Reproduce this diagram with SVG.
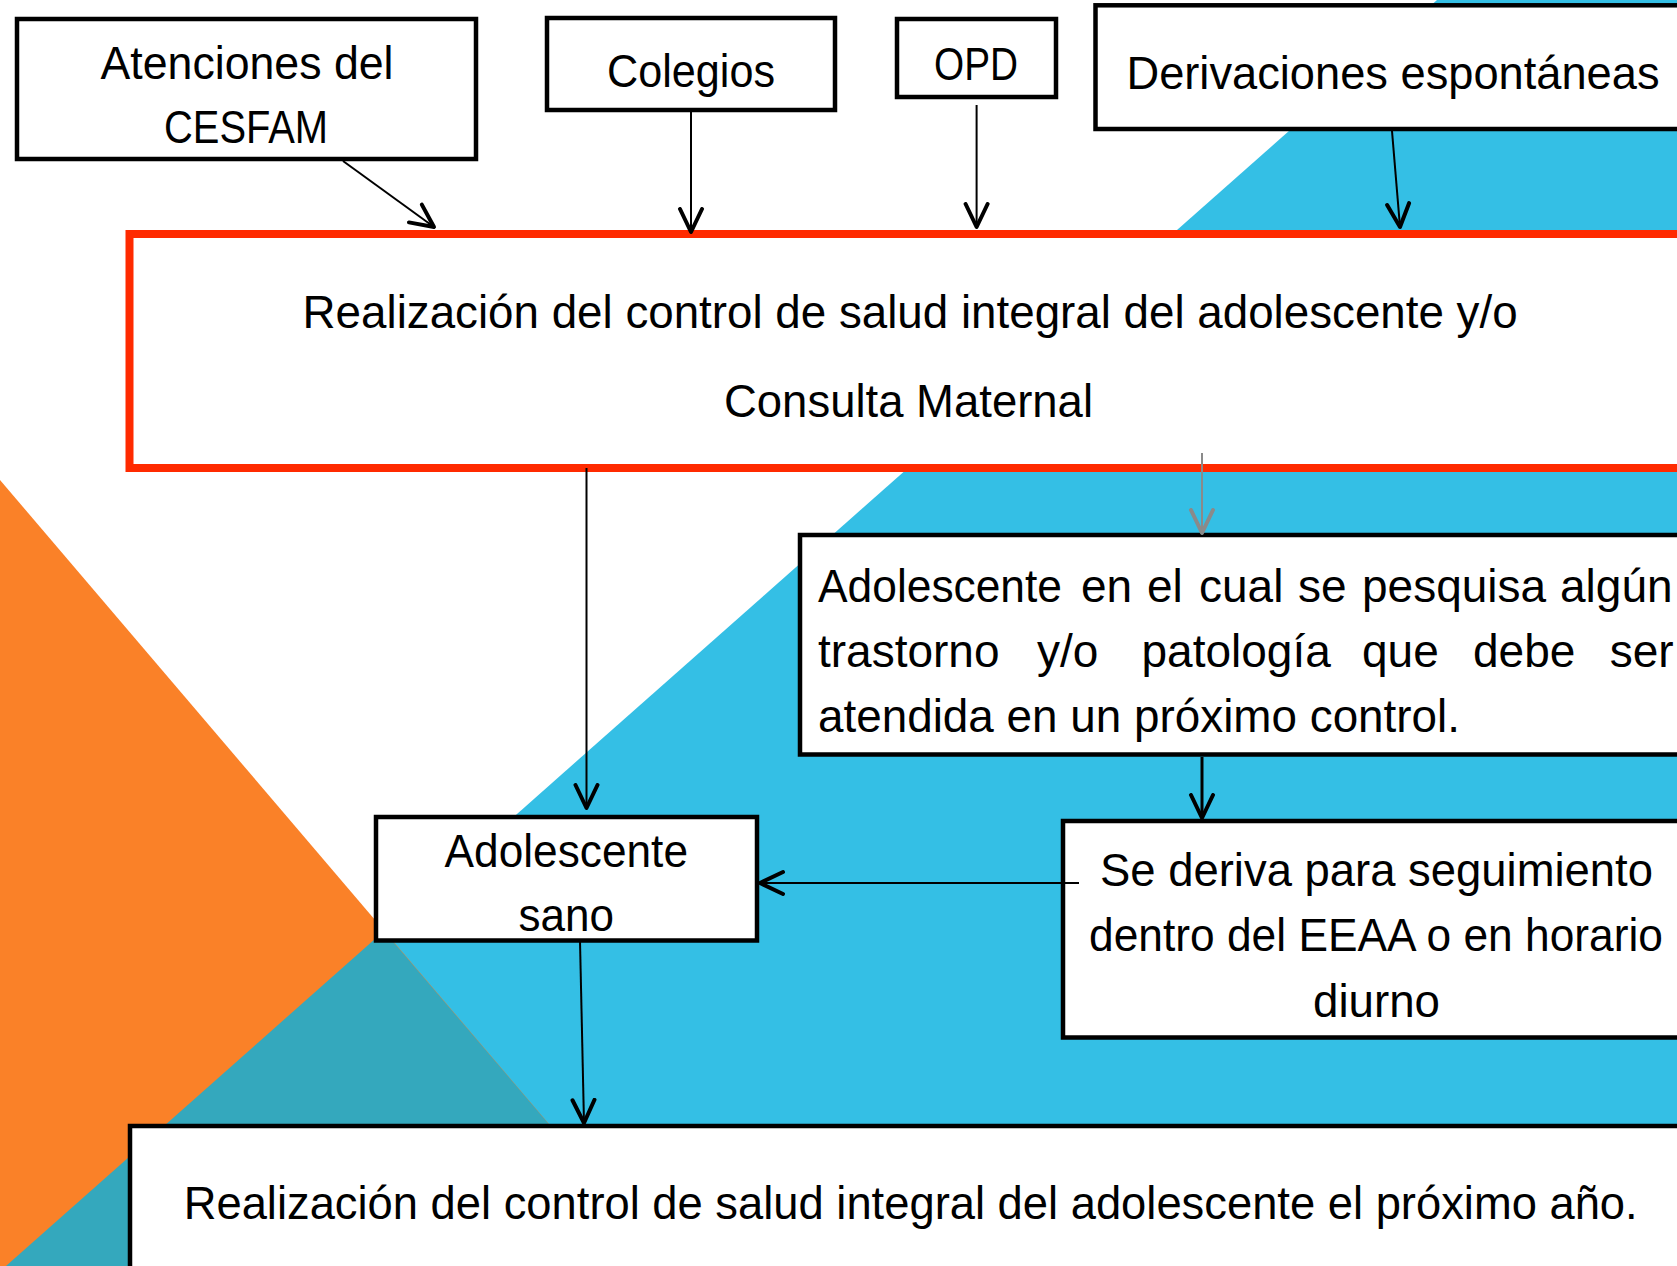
<svg xmlns="http://www.w3.org/2000/svg" width="1677" height="1266" viewBox="0 0 1677 1266">
<style>
.box{fill:#fff;stroke:#000;stroke-width:4.5}
.red{fill:#fff;stroke:#FF2A00;stroke-width:8}
.t{font-family:"Liberation Sans",Arial,sans-serif;font-size:46px;fill:#000}
.ln{stroke:#000;stroke-width:2;fill:none}
.lg{stroke:#8a8a8a;stroke-width:2;fill:none}
</style>
<defs>
<marker id="arr" viewBox="0 0 30 30" markerWidth="30" markerHeight="30" refX="25" refY="15" orient="auto" markerUnits="userSpaceOnUse">
<path d="M2,4 L25,15 L2,26" fill="none" stroke="#000" stroke-width="4" stroke-linejoin="round" stroke-linecap="round"/>
</marker>
<marker id="arrg" viewBox="0 0 30 30" markerWidth="30" markerHeight="30" refX="25" refY="15" orient="auto" markerUnits="userSpaceOnUse">
<path d="M2,4 L25,15 L2,26" fill="none" stroke="#8a8a8a" stroke-width="4" stroke-linejoin="round" stroke-linecap="round"/>
</marker>
</defs>
<rect x="0" y="0" width="1677" height="1266" fill="#fff"/>
<g id="background">
<polygon points="1437,0 1677,0 1677,1266 6,1266" fill="#34BFE5"/>
<polygon points="0,480 670,1266 0,1266" fill="#FA8128"/>
<polygon points="384,931 670,1266 6,1266" fill="#34A8BD"/>
</g>
<g id="n-atenciones">
<rect class="box" x="17" y="19" width="459" height="140"/>
<text class="t" x="100.5" y="79" textLength="293" lengthAdjust="spacingAndGlyphs">Atenciones del</text>
<text class="t" x="164" y="143" textLength="164" lengthAdjust="spacingAndGlyphs">CESFAM</text>
</g>
<g id="n-colegios">
<rect class="box" x="547" y="18" width="288" height="92"/>
<text class="t" x="607" y="87" textLength="168" lengthAdjust="spacingAndGlyphs">Colegios</text>
</g>
<g id="n-opd">
<rect class="box" x="897" y="19" width="159" height="78"/>
<text class="t" x="934" y="80" textLength="84" lengthAdjust="spacingAndGlyphs">OPD</text>
</g>
<g id="n-derivaciones">
<rect class="box" x="1095.5" y="5.3" width="700" height="123.7"/>
<text class="t" x="1126.5" y="89" textLength="533" lengthAdjust="spacingAndGlyphs">Derivaciones espontáneas</text>
</g>
<g id="n-control">
<rect class="red" x="129.5" y="234" width="1600" height="234"/>
<text class="t" x="302.6" y="328" textLength="1215" lengthAdjust="spacingAndGlyphs">Realización del control de salud integral del adolescente y/o</text>
<text class="t" x="724" y="417" textLength="369" lengthAdjust="spacingAndGlyphs">Consulta Maternal</text>
</g>
<g id="n-pesquisa">
<rect class="box" x="800" y="535" width="1000" height="219.5"/>
<text class="t" y="602"><tspan x="818" textLength="244" lengthAdjust="spacingAndGlyphs">Adolescente</tspan><tspan x="1081">en</tspan><tspan x="1147">el</tspan><tspan x="1199">cual</tspan><tspan x="1298">se</tspan><tspan x="1362">pesquisa</tspan><tspan x="1560">algún</tspan></text>
<text class="t" y="667"><tspan x="818">trastorno</tspan><tspan x="1037">y/o</tspan><tspan x="1141.5">patología</tspan><tspan x="1362">que</tspan><tspan x="1473">debe</tspan><tspan x="1609.7">ser</tspan></text>
<text class="t" x="818" y="732" textLength="642" lengthAdjust="spacingAndGlyphs">atendida en un próximo control.</text>
</g>
<g id="n-sano">
<rect class="box" x="376" y="817" width="381" height="123.5"/>
<text class="t" x="444.6" y="867" textLength="243.4" lengthAdjust="spacingAndGlyphs">Adolescente</text>
<text class="t" x="518.5" y="931" textLength="95.5" lengthAdjust="spacingAndGlyphs">sano</text>
</g>
<g id="n-deriva">
<rect class="box" x="1063" y="821" width="700" height="216.5"/>
<text class="t" x="1100" y="886" textLength="553" lengthAdjust="spacingAndGlyphs">Se deriva para seguimiento</text>
<text class="t" x="1089" y="951" textLength="574" lengthAdjust="spacingAndGlyphs">dentro del EEAA o en horario</text>
<text class="t" x="1313" y="1017" textLength="127" lengthAdjust="spacingAndGlyphs">diurno</text>
</g>
<g id="n-proximo">
<rect class="box" x="130" y="1126" width="1600" height="200"/>
<text class="t" x="183.7" y="1219" textLength="1454" lengthAdjust="spacingAndGlyphs">Realización del control de salud integral del adolescente el próximo año.</text>
</g>
<g id="connectors">
<line class="ln" x1="343" y1="161" x2="434" y2="227" marker-end="url(#arr)"/>
<line class="ln" x1="691" y1="112" x2="691" y2="232" marker-end="url(#arr)"/>
<line class="ln" x1="976.6" y1="105" x2="976.6" y2="227" marker-end="url(#arr)"/>
<line class="ln" x1="1392" y1="131" x2="1400" y2="227" marker-end="url(#arr)"/>
<line class="ln" x1="586.5" y1="468" x2="586.5" y2="808" marker-end="url(#arr)"/>
<line class="lg" x1="1202" y1="453" x2="1202" y2="533" marker-end="url(#arrg)"/>
<line class="ln" style="stroke-width:3" x1="1202" y1="757" x2="1202" y2="818" marker-end="url(#arr)"/>
<line class="ln" x1="1079" y1="883" x2="760" y2="883" marker-end="url(#arr)"/>
<line class="ln" x1="580" y1="941" x2="584" y2="1123" marker-end="url(#arr)"/>
</g>
</svg>
